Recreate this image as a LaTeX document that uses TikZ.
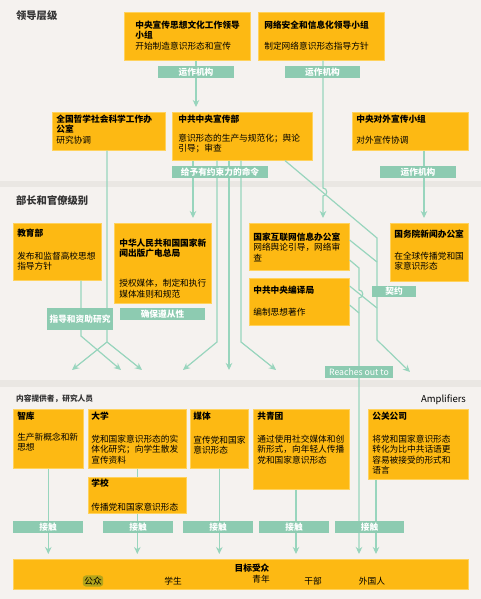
\documentclass[tikz,border=0pt]{standalone}
\usepackage{fontspec}
\setmainfont{Noto Sans CJK SC}
\usetikzlibrary{arrows.meta}
\definecolor{paper}{HTML}{F5F2EF}
\definecolor{band}{HTML}{EAE7E3}
\definecolor{amber}{HTML}{FDB913}
\definecolor{amberedge}{HTML}{FFD25C}
\definecolor{mint}{HTML}{8DCBB1}
\definecolor{seafoam}{HTML}{98D5BD}
\definecolor{olive}{HTML}{B3A41A}
\definecolor{ink}{HTML}{333333}

\begin{document}
\begin{tikzpicture}[x=1pt,y=-1pt,>={Stealth[length=7pt,width=6.5pt]},
  unitbox/.style={fill=amber,draw=amberedge,line width=0.6pt,inner sep=0pt,anchor=north west},
  tag/.style={fill=mint,text=white,inner sep=0pt,font=\bfseries},
  link/.style={draw=seafoam,line width=1.2pt}]
  \fontsize{8.7}{10.5}\selectfont % affects text nodes in this picture
  \newcommand{\orgtext}[5]{\parbox[t][#2pt][t]{#1pt}{\leftskip=#3pt\vspace*{#4pt}#5}}
  \useasboundingbox (0,0) rectangle (481,599);
  \fill[paper] (0,0) rectangle (481,599);
  \fill[band] (0,181) rectangle (481,187); \fill[band] (0,380)
  rectangle (481,387);
  % level headings
  \node[anchor=west,text=ink,font=\fontsize{10.3}{12}\bfseries] (lvl1) at
  (13,16) {领导层级}; \node[anchor=west,text=ink,font=\fontsize{10.3}{12}\bfseries]
  (lvl2) at (13,201) {部长和官僚级别};
  \node[anchor=west,text=ink,font=\fontsize{7.7}{9}\bfseries] (lvl3) at
  (13,399) {内容提供者，研究人员}; \node[anchor=east,text=black,
  font=\fontsize{9.5}{11}\selectfont] (amp) at (469,400) {Amplifiers};
  % leading groups
  \node[unitbox] (lsg) at (124,12) {\orgtext{126}{48}{11}{8.6}{{\bfseries
  中央宣传思想文化工作领导\\小组}\\开始制造意识形态和宣传}};
  \node[unitbox] (cac) at (258,12) {\orgtext{126}{48}{6}{8.6}{{\bfseries
  网络安全和信息化领导小组}\\[10.5pt]制定网络意识形态指导方针}};
  \node[unitbox] (nopss) at (52,112) {\orgtext{113}{38}{4}{2.6}{{\bfseries
  全国哲学社会科学工作办\\公室}\\研究协调}};
  \node[unitbox] (cpd) at (172,112) {\orgtext{140}{48}{6}{2.6}{{\bfseries
  中共中央宣传部}\\[8.5pt]意识形态的生产与规范化；舆论\\引导；审查}};
  \node[unitbox] (elg) at (352,112) {\orgtext{116}{38}{4}{2.6}{{\bfseries
  中央对外宣传小组}\\[10.5pt]对外宣传协调}};
  % ministries
  \node[unitbox] (moe) at (13,223) {\orgtext{88}{57}{4}{5.6}{{\bfseries
  教育部}\\[12.5pt]发布和监督高校思想\\指导方针}};
  \node[unitbox] (sapprft) at (114,223) {\orgtext{97}{80}{5}{15.6}{{\bfseries
  中华人民共和国国家新\\闻出版广电总局}\\[19.5pt]授权媒体，制定和执行\\媒体准则和规范}};
  \node[unitbox] (cac2) at (249,223) {\orgtext{100}{47}{4}{9.6}{{\bfseries
  国家互联网信息办公室}\\网络舆论引导，网络审\\查}};
  \node[unitbox] (cctb) at (249,278) {\orgtext{100}{47}{4}{7.6}{{\bfseries
  中共中央编译局}\\[11.5pt]编制思想著作}};
  \node[unitbox] (scio) at (390,223) {\orgtext{78}{58}{4}{6.6}{{\bfseries
  国务院新闻办公室}\\[11.5pt]在全球传播党和国\\家意识形态}};
  % providers and amplifiers
  \node[unitbox] (think) at (13,409) {\orgtext{70}{59}{4}{2.6}{{\bfseries
  智库}\\[10.5pt]生产新概念和新\\思想}};
  \node[unitbox] (univ) at (88,409) {\orgtext{98}{59}{3}{2.6}{{\bfseries
  大学}\\[12.5pt]党和国家意识形态的实\\体化研究；向学生散发\\宣传资料}};
  \node[unitbox] (school) at (88,477) {\orgtext{98}{36}{3}{1.6}{{\bfseries
  学校}\\[13.5pt]传播党和国家意识形态}};
  \node[unitbox] (media) at (190,409) {\orgtext{58}{59}{3}{2.6}{{\bfseries
  媒体}\\[13.5pt]宣传党和国家\\意识形态}};
  \node[unitbox] (cyl) at (253,409) {\orgtext{96}{80}{4}{2.6}{{\bfseries
  共青团}\\[12.5pt]通过使用社交媒体和创\\新形式，向年轻人传播\\党和国家意识形态}};
  \node[unitbox] (pr) at (368,409) {\orgtext{100}{70}{4}{2.6}{{\bfseries
  公关公司}\\[12.5pt]将党和国家意识形态\\转化为比中共话语更\\容易被接受的形式和\\语言}};
  % target audience
  \node[unitbox,minimum width=455pt,minimum height=30pt] (aud) at (13,559) {};
  \node[font=\bfseries] (audt) at (252,568) {目标受众};
  \node[fill=olive,rounded corners=3pt,inner sep=1.5pt] (pub) at (93,581) {公众};
  \node (stu) at (173,581) {学生}; \node (youth) at (261,579) {青年};
  \node (cadre) at (313,581) {干部}; \node (frgn) at (372,581) {外国人};
  % loose arrow ends
  \coordinate (d1) at (72,370); \coordinate (d2) at (121,370);
  \coordinate (d3) at (142,370); \coordinate (d4) at (183,370);
  \coordinate (d5) at (229,370); \coordinate (d6) at (276,370);
  \coordinate (d7) at (410,372);
  % links from the leading groups
  \draw[link,->,shorten >=5pt] (196,0 |- lsg.south) -- (196,0 |- cpd.north);
  \draw[link,->,shorten >=5pt] (323,0 |- cac.south) -- (323,188) .. controls
  (328,188) and (328,196) .. (323,196) -- (323,0 |- cac2.north);
  \draw[link,->,shorten >=5pt] (424,0 |- elg.south) -- (424,0 |- scio.north);
  \draw[link,->,shorten >=5pt] (193,0 |- cpd.south) -- (193,0 |- sapprft.north);
  \draw[link,->] (217,0 |- cpd.south) -- (217,342) -- (d4);
  \draw[link,->] (229,0 |- cpd.south) -- (d5);
  \draw[link,->] (241,0 |- cpd.south) -- (241,342) -- (d6);
  \draw[link,->] (285,0 |- cpd.south) -- (377,238) -- (377,340) -- (d7);
  \draw[link,->] (107,0 |- nopss.south) -- (107,342) -- (d1);
  \draw[link,->] (107,342) -- (d3);
  \draw[link,->] (81,0 |- moe.south) -- (81,336) -- (d2);
  % links from the ministries
  \draw[link] (cac2.east |- 0,240) -- (377,262);
  \draw[link] (cctb.east |- 0,286) -- (377,308);
  \draw[link,->,shorten >=5pt] (cac2.east |- 0,260) -- (359,268) -- (359,290)
  .. controls (364,290) and (364,298) .. (359,298) -- (359,0 |- aud.north);
  \draw[link] (cctb.east |- 0,305) -- (359,313);
  % links to the audience
  \draw[link,->,shorten >=5pt] (think) -- (think |- aud.north);
  \draw[link] (univ) -- (school);
  \draw[link,->,shorten >=5pt] (school) -- (school |- aud.north);
  \draw[link,->,shorten >=5pt] (media) -- (media |- aud.north);
  \draw[link,->,shorten >=5pt] (296,0 |- cyl.south) -- (296,0 |- aud.north);
  \draw[link,->,shorten >=5pt] (376,0 |- pr.south) -- (376,0 |- aud.north);
  % tags on the links
  \node[tag,minimum width=76pt,minimum height=12pt] (op1) at (196,72) {运作机构};
  \node[tag,minimum width=75pt,minimum height=12pt] (op2) at (322.5,72) {运作机构};
  \node[tag,minimum width=96pt,minimum height=12pt] (cmd) at (220,172) {给予有约束力的命令};
  \node[tag,minimum width=76pt,minimum height=12pt] (op3) at (418,172) {运作机构};
  \node[tag,minimum width=66pt,minimum height=22pt] (guide) at (80,319) {指导和资助研究};
  \node[tag,minimum width=85pt,minimum height=12pt] (comply) at (162.5,314) {确保遵从性};
  \node[tag,minimum width=44pt,minimum height=11pt] (pact) at (394,291.5) {契约};
  \node[tag,font=\selectfont,minimum width=68pt,minimum height=12pt] (reach) at
  (359,372) {Reaches out to};
  \node[tag,minimum width=70pt,minimum height=12pt] (touch1) at (48,527) {接触};
  \node[tag,minimum width=70pt,minimum height=12pt] (touch2) at (138,527) {接触};
  \node[tag,minimum width=70pt,minimum height=12pt] (touch3) at (218,527) {接触};
  \node[tag,minimum width=70pt,minimum height=12pt] (touch4) at (294,527) {接触};
  \node[tag,minimum width=69pt,minimum height=12pt] (touch5) at (369.5,527) {接触};
\end{tikzpicture}
\end{document}
